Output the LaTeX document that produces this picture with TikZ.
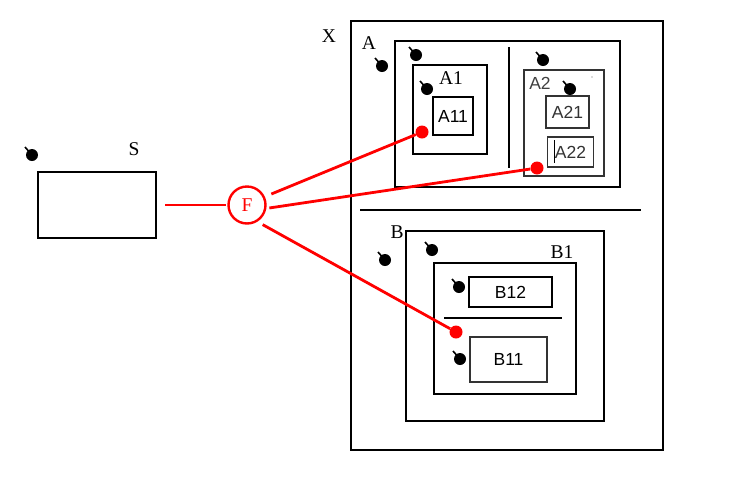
\documentclass[tikz,border=0pt]{standalone}
\usepackage{fontspec}
\setmainfont{Liberation Serif}
\newfontfamily\labsans{Liberation Sans}
\begin{document}
\begin{tikzpicture}[x=1pt,y=-1pt,
  box/.style={draw=black,line width=2pt},
  thinbox/.style={draw=black!80,line width=1.6pt},
  rule/.style={draw=black,line width=2pt},
  serlab/.style={font=\fontsize{19.5}{20}\selectfont,inner sep=0pt},
  sanslab/.style={font=\labsans\fontsize{17.5}{18}\selectfont,inner sep=0pt},
  tack/.style={circle,fill=black,inner sep=0pt,minimum width=11pt,minimum height=12pt},
  tick/.style={draw=black,line width=1.6pt},
  blob/.style={circle,fill=red,inner sep=0pt,minimum size=13pt},
  redline/.style={draw=red,line width=2.8pt}]
\useasboundingbox[fill=white] (0,0) rectangle (747,480);

% outer frame X and the divider between A and B
\draw[box,line width=2.2pt] (351,21) rectangle (663,450);
\node[serlab] (lX) at (329,36) {X};
\draw[rule] (360,210) -- (641,210);

% region A
\draw[box] (395,41) rectangle (620,187);
\node[serlab] (lA) at (369,43) {A};
\draw[rule] (509,47) -- (509,168);
\draw[box] (413,65) rectangle (487,154);
\node[serlab] (lA1) at (451,78) {A1};
\node[box,minimum width=40pt,minimum height=38pt,inner sep=0pt] (A11) at (453,116) {};
\node[sanslab] at (A11) {A11};
\draw[thinbox] (524,70) rectangle (604,176);
\node[sanslab,text=black!75] (lA2) at (540,83) {A2};
\node[thinbox,minimum width=43pt,minimum height=32pt,inner sep=0pt] (A21) at (567.5,112) {};
\node[sanslab,text=black!80] at (A21) {A21};
\node[thinbox,minimum width=46pt,minimum height=30pt,inner sep=0pt] (A22) at (570.5,152) {};
\node[sanslab,text=black!80] at (A22) {A22};
\draw[black,line width=1pt] (554,140) -- (554,163);
\fill[black!60] (592,77) circle (0.6pt);

% region B
\draw[box] (406,231) rectangle (604,421);
\node[serlab] (lB) at (397,232) {B};
\draw[box] (434,263) rectangle (576,394);
\node[serlab] (lB1) at (562,252) {B1};
\node[box,minimum width=83pt,minimum height=30pt,inner sep=0pt] (B12) at (510.5,292) {};
\node[sanslab] at (B12) {B12};
\draw[rule] (444,318) -- (562,318);
\node[thinbox,minimum width=77pt,minimum height=45pt,inner sep=0pt] (B11) at (508.5,359.5) {};
\node[sanslab] at (B11) {B11};

% source S
\node[box,minimum width=118pt,minimum height=66pt,inner sep=0pt] (S) at (97,205) {};
\node[serlab] (lS) at (134,149) {S};

% black tacks
\foreach \i/\x/\y in {1/32/155,2/382/66,3/416/55,4/427/89,5/543/60,6/570/89,
                      7/385/260,8/432/250,9/459/287,10/460/359}{
  \node[tack] (t\i) at (\x,\y) {};
  \draw[tick] (t\i.center) -- ++(-7,-8);
}

% function F and its links
\node[circle,draw=red,line width=2.4pt,minimum size=37pt,inner sep=0pt,
      text=red,font=\fontsize{19.5}{20}\selectfont] (F) at (247,205) {F};
\node[blob] (r1) at (422,132) {};
\node[blob] (r2) at (537,168) {};
\node[blob] (r3) at (456,332) {};

\draw[redline,shorten <=8pt,shorten >=1pt] (S.east) -- (F.west);
\draw[redline,shorten <=7pt] (F.25) -- (r1);
\draw[redline,shorten <=3pt] (F.-10) -- (r2);
\draw[redline,shorten <=6pt] (F.-58) -- (r3);
\end{tikzpicture}
\end{document}
